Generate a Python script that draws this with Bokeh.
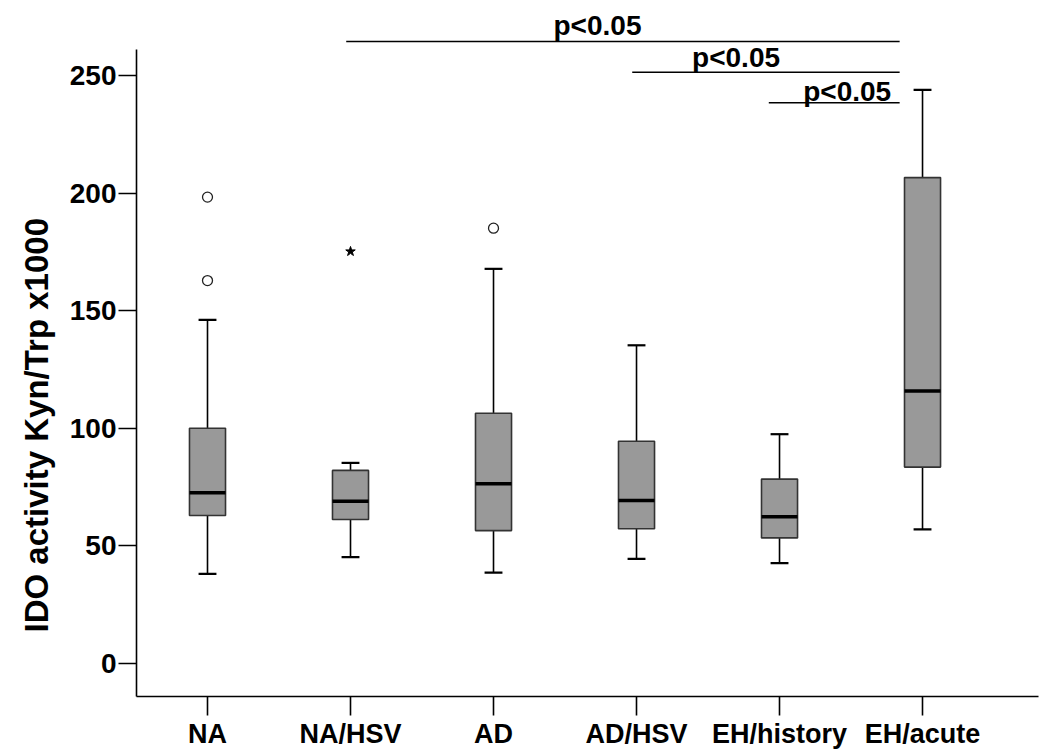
from bokeh.plotting import figure
from bokeh.models import FixedTicker, Range1d, Title, ColumnDataSource
from bokeh.core.properties import value
from bokeh.embed import file_html
from bokeh.resources import INLINE

# ---- data ----
categories = ["NA", "NA/HSV", "AD", "AD/HSV", "EH/history", "EH/acute"]
whisker_high = [146.1, 85.3, 167.8, 135.3, 97.5, 243.9]
q3 = [100.0, 82.1, 106.4, 94.5, 78.4, 206.6]
median = [72.6, 69.0, 76.4, 69.3, 62.4, 115.9]
q1 = [62.9, 61.2, 56.5, 57.3, 53.4, 83.5]
whisker_low = [38.1, 45.2, 38.6, 44.5, 42.7, 57.0]

circle_outlier_cat = ["NA", "NA", "AD"]
circle_outlier_val = [198.3, 162.8, 185.1]
star_outlier_cat = ["NA/HSV"]
star_outlier_val = [175.2]

sig_from = ["NA/HSV", "AD/HSV", "EH/history"]
sig_to = ["EH/acute", "EH/acute", "EH/acute"]
sig_level = [264.5, 251.4, 238.4]
sig_text = ["p<0.05", "p<0.05", "p<0.05"]

y_ticks = [0, 50, 100, 150, 200, 250]
y_label = "IDO activity Kyn/Trp x1000"

# ---- layout helpers ----
pos = {c: i + 1 for i, c in enumerate(categories)}
xs = [pos[c] for c in categories]
BOX_W = 0.252
CAP_W = 0.125
FONT = value("Liberation Sans")

p = figure(width=1042, height=751, output_backend="svg", toolbar_location=None,
           x_range=Range1d(0.5035, 6.811), y_range=Range1d(-14.03, 276.8),
           min_border_left=136, min_border_right=4, min_border_top=12,
           min_border_bottom=55)
p.outline_line_color = None
p.grid.visible = False
p.background_fill_color = "white"

src = ColumnDataSource(dict(x=xs, hi=whisker_high, q3=q3, med=median, q1=q1, lo=whisker_low,
                            xl=[x - BOX_W / 2 for x in xs], xr=[x + BOX_W / 2 for x in xs],
                            cl=[x - CAP_W / 2 for x in xs], cr=[x + CAP_W / 2 for x in xs]))

# whiskers
p.segment(x0="x", y0="q3", x1="x", y1="hi", source=src, line_color="black", line_width=1.6)
p.segment(x0="x", y0="q1", x1="x", y1="lo", source=src, line_color="black", line_width=1.6)
# caps
p.segment(x0="cl", y0="hi", x1="cr", y1="hi", source=src, line_color="black", line_width=2.2)
p.segment(x0="cl", y0="lo", x1="cr", y1="lo", source=src, line_color="black", line_width=2.2)
# boxes
p.vbar(x="x", width=BOX_W, bottom="q1", top="q3", source=src,
       fill_color="#999999", line_color="#333333", line_width=1.6)
# medians
p.segment(x0="xl", y0="med", x1="xr", y1="med", source=src, line_color="black", line_width=3.5)

# outliers
p.scatter([pos[c] for c in circle_outlier_cat], circle_outlier_val, marker="circle",
          size=10, fill_color="white", line_color="#222222", line_width=1.3)
p.scatter([pos[c] for c in star_outlier_cat], star_outlier_val, marker="star",
          size=10, fill_color="black", line_color="black")

# significance bars
x0s = [pos[a] + (-0.075 if a == "EH/history" else -0.03) for a in sig_from]
x1s = [pos[b] - 0.16 for b in sig_to]
p.segment(x0=x0s, y0=sig_level, x1=x1s, y1=sig_level, line_color="black", line_width=1.6)
text_x = [pos[sig_from[0]] + 1.727, pos[sig_from[1]] + 0.696, pos[sig_from[2]] + 0.473]
text_y = [sig_level[0] + 6.8, sig_level[1] + 6.3, sig_level[2] + 4.9]
p.text(x=text_x, y=text_y, text=sig_text, text_font=FONT, text_font_style="bold",
       text_font_size="28px", text_align="center", text_baseline="alphabetic",
       text_color="black")

# axes
for ax in (p.xaxis[0], p.yaxis[0]):
    ax.axis_line_color = "black"
    ax.axis_line_width = 1.6
    ax.major_tick_line_color = "black"
    ax.major_tick_line_width = 1.6
    ax.major_tick_in = 0
    ax.minor_tick_line_color = None
    ax.major_label_text_font = "Liberation Sans"
    ax.major_label_text_font_style = "bold"
    ax.major_label_text_color = "black"

p.xaxis.ticker = FixedTicker(ticks=xs)
p.xaxis.major_label_overrides = {x: c for x, c in zip(xs, categories)}
p.xaxis.major_tick_out = 19
p.xaxis.major_label_standoff = 3
p.xaxis.major_label_text_font_size = "27px"

p.yaxis.ticker = FixedTicker(ticks=y_ticks)
p.yaxis.bounds = (-14.03, 261)
p.yaxis.major_tick_out = 18
p.yaxis.major_label_standoff = 2
p.yaxis.major_label_text_font_size = "28px"

ylab = Title(text=y_label, align="left", offset=64, standoff=23, text_font="Liberation Sans",
             text_font_style="bold", text_font_size="33px", text_color="black")
p.add_layout(ylab, "left")

open("out.html", "w").write(file_html(p, INLINE))
